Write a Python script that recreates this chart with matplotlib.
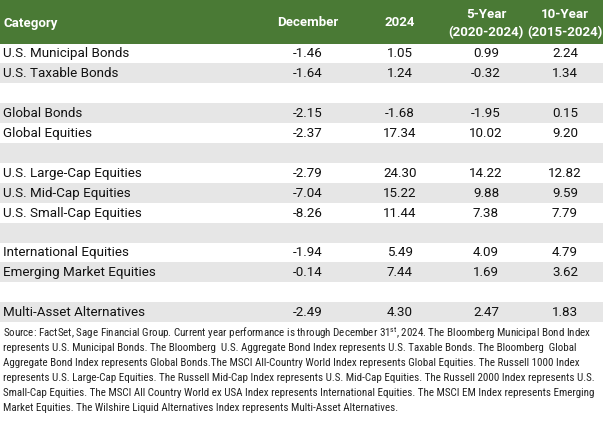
import matplotlib
matplotlib.use("Agg")
import matplotlib.pyplot as plt
from matplotlib.patches import Rectangle

plt.rcParams["font.family"] = ["Roboto", "DejaVu Sans"]
plt.rcParams["mathtext.fontset"] = "custom"
plt.rcParams["mathtext.rm"] = "Roboto Condensed"

headers = ["Category", "December", "2024", "5-Year\n(2020-2024)", "10-Year\n(2015-2024)"]
categories = ["U.S. Municipal Bonds", "U.S. Taxable Bonds", "",
              "Global Bonds", "Global Equities", "",
              "U.S. Large-Cap Equities", "U.S. Mid-Cap Equities", "U.S. Small-Cap Equities", "",
              "International Equities", "Emerging Market Equities", "",
              "Multi-Asset Alternatives"]
december = [-1.46, -1.64, None, -2.15, -2.37, None, -2.79, -7.04, -8.26, None, -1.94, -0.14, None, -2.49]
ytd_2024 = [1.05, 1.24, None, -1.68, 17.34, None, 24.30, 15.22, 11.44, None, 5.49, 7.44, None, 4.30]
five_year = [0.99, -0.32, None, -1.95, 10.02, None, 14.22, 9.88, 7.38, None, 4.09, 1.69, None, 2.47]
ten_year = [2.24, 1.34, None, 0.15, 9.20, None, 12.82, 9.59, 7.79, None, 4.79, 3.62, None, 1.83]

footnote = [
    "Source: FactSet, Sage Financial Group. Current year performance is through December 31$^{\\mathrm{st}}$, 2024. The Bloomberg Municipal Bond Index",
    "represents U.S. Municipal Bonds. The Bloomberg  U.S. Aggregate Bond Index represents U.S. Taxable Bonds. The Bloomberg  Global",
    "Aggregate Bond Index represents Global Bonds.The MSCI All-Country World Index represents Global Equities. The Russell 1000 Index",
    "represents U.S. Large-Cap Equities. The Russell Mid-Cap Index represents U.S. Mid-Cap Equities. The Russell 2000 Index represents U.S.",
    "Small-Cap Equities. The MSCI All Country World ex USA Index represents International Equities. The MSCI EM Index represents Emerging",
    "Market Equities. The Wilshire Liquid Alternatives Index represents Multi-Asset Alternatives.",
]

W, H = 605, 430
fig = plt.figure(figsize=(W / 100, H / 100), dpi=100)
ax = fig.add_axes([0, 0, 1, 1])
ax.set_xlim(0, W)
ax.set_ylim(H, 0)
ax.axis("off")
renderer = fig.canvas.get_renderer()

green = "#4a7a35"
gray = "#e6e6e6"
ink = "#111111"
table_w = 603
head_h = 43.5
row_h = 19.9
col_x = [3, 308, 400, 486, 565]


def fit_size(text, width_px, size=8.0, **kw):
    # font size that makes `text` about width_px wide
    t = ax.text(0, 0, text, fontsize=size, **kw)
    w = t.get_window_extent(renderer).width
    t.remove()
    return size * width_px / w


# header band
ax.add_patch(Rectangle((0, 0), table_w, head_h, color=green, lw=0))
hdr = dict(color="white", fontsize=9.5, fontweight="bold", va="center")
ax.text(col_x[0], 23, headers[0], ha="left", **hdr)
for cx, h in zip(col_x[1:], headers[1:]):
    parts = h.split("\n")
    if len(parts) == 1:
        ax.text(cx, 23, parts[0], ha="center", **hdr)
    else:
        ax.text(cx, 15, parts[0], ha="center", **hdr)
        ax.text(cx, 33, parts[1], ha="center", **hdr)

# body rows, alternating white / gray
cols = [december, ytd_2024, five_year, ten_year]
for i, cat in enumerate(categories):
    y0 = head_h + i * row_h
    yc = y0 + row_h / 2 + 0.5
    if i % 2 == 1:
        ax.add_patch(Rectangle((0, y0), table_w, row_h, color=gray, lw=0))
    if cat:
        ax.text(col_x[0], yc, cat, fontsize=9.6, va="center", ha="left", color=ink)
    for cx, col in zip(col_x[1:], cols):
        if col[i] is not None:
            ax.text(cx, yc, f"{col[i]:.2f}", fontsize=9.6, va="center", ha="center", color=ink)

# source note
note_font = ["Roboto Condensed", "DejaVu Sans"]
note_size = fit_size(footnote[0], 590, family=note_font)
for j, line in enumerate(footnote):
    ax.text(3, 333 + j * 15, line, fontsize=note_size, va="center", ha="left", color="#222222",
            family=note_font)

fig.savefig("out.png", dpi=100)
